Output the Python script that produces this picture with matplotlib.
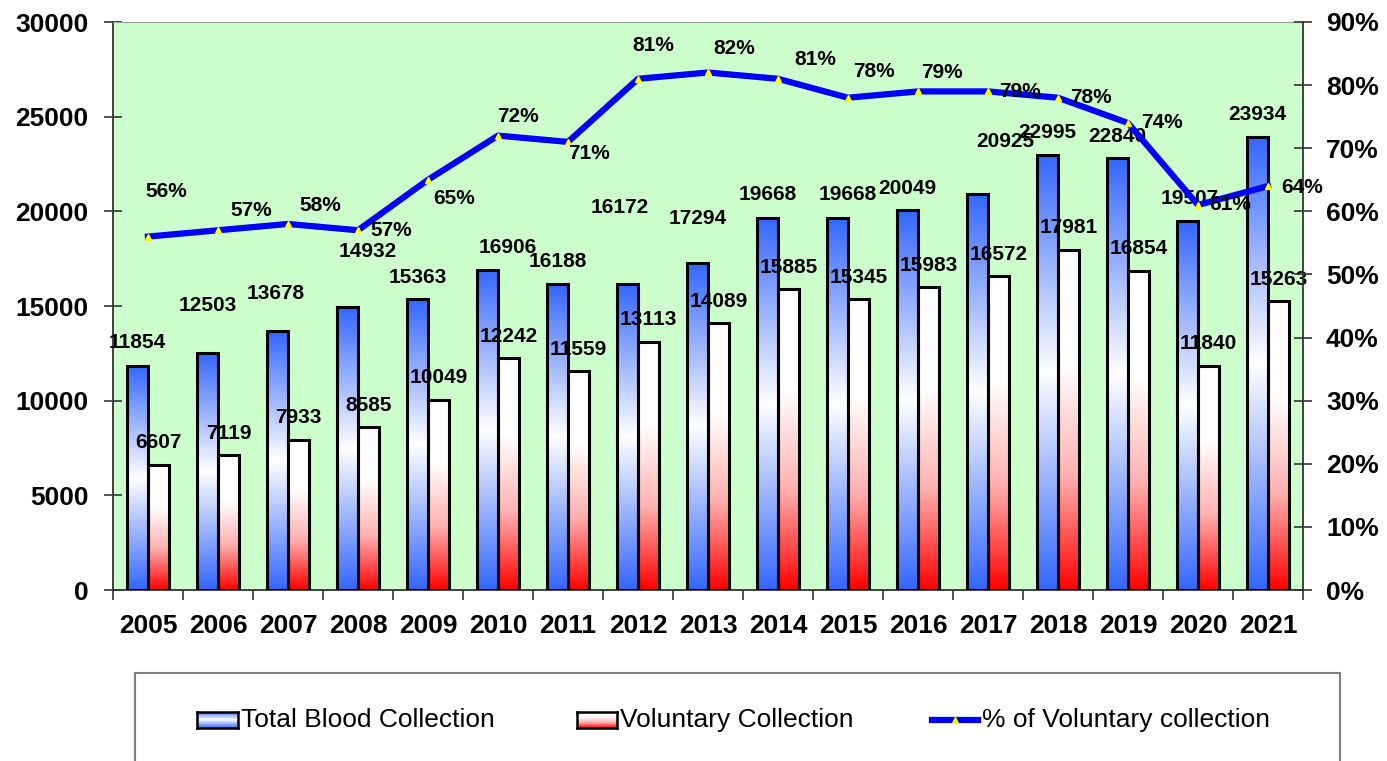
import numpy as np
import matplotlib.pyplot as plt
from matplotlib.colors import LinearSegmentedColormap
from matplotlib.patches import Rectangle
from matplotlib.lines import Line2D
from matplotlib.ticker import PercentFormatter, MultipleLocator

plt.rcParams['font.family'] = ['Liberation Sans', 'DejaVu Sans']

years = ['2005', '2006', '2007', '2008', '2009', '2010', '2011', '2012', '2013',
         '2014', '2015', '2016', '2017', '2018', '2019', '2020', '2021']
total = [11854, 12503, 13678, 14932, 15363, 16906, 16188, 16172, 17294,
         19668, 19668, 20049, 20925, 22995, 22840, 19507, 23934]
voluntary = [6607, 7119, 7933, 8585, 10049, 12242, 11559, 13113, 14089,
             15885, 15345, 15983, 16572, 17981, 16854, 11840, 15263]
pct = [56, 57, 58, 57, 65, 72, 71, 81, 82, 81, 78, 79, 79, 78, 74, 61, 64]

# where the data labels sit, in pixels from the bar top / line point
total_off = [(0, 23), (0, 48), (-2, 38), (20, 56), (0, 22), (20, 22), (0, 22),
             (-8, 76), (0, 44), (0, 23), (10, 23), (0, 22), (28, 52), (0, 22),
             (0, 21), (2, 22), (0, 22)]
vol_off = (0, 22)
pct_off = [(18, 45), (33, 20), (32, 18), (33, 0), (26, -19), (20, 19), (21, -12),
           (15, 33), (26, 24), (37, 19), (26, 26), (24, 19), (32, 0), (33, 0),
           (34, 0), (32, 1), (34, -1)]

W, H = 1387, 761
blue_cmap = LinearSegmentedColormap.from_list('tot', ['#3366FF', '#FFFFFF', '#3366FF'])
red_cmap = LinearSegmentedColormap.from_list('vol', ['#FF0000', '#FFB0B0', '#FFFFFF', '#FFFFFF'])
grad = np.linspace(0, 1, 256).reshape(-1, 1)

fig = plt.figure(figsize=(W / 100, H / 100), dpi=100)
ax = fig.add_axes([113 / W, 1 - 590 / H, (1303 - 113) / W, (590 - 22) / H])
ax.set_facecolor('#CCFFCC')

x = np.arange(len(years))
w = 0.3

# gradient fills, one image per bar, then black outlines on top
for xi, h in zip(x - w / 2, total):
    ax.imshow(grad, extent=[xi - w / 2, xi + w / 2, 0, h], aspect='auto',
              origin='lower', cmap=blue_cmap, zorder=2)
for xi, h in zip(x + w / 2, voluntary):
    ax.imshow(grad, extent=[xi - w / 2, xi + w / 2, 0, h], aspect='auto',
              origin='lower', cmap=red_cmap, zorder=2)
ax.bar(x - w / 2, total, width=w, facecolor='none', edgecolor='black', lw=2.2, zorder=3)
ax.bar(x + w / 2, voluntary, width=w, facecolor='none', edgecolor='black', lw=2.2, zorder=3)

ax.set_xlim(-0.5, len(years) - 0.5)
ax.set_ylim(0, 30000)
ax.yaxis.set_major_locator(MultipleLocator(5000))
ax.set_xticks(x)
ax.set_xticklabels(years, fontsize=19, fontweight='bold')
ax.set_xticks(np.arange(len(years) + 1) - 0.5, minor=True)
ax.tick_params(axis='x', which='major', length=0, pad=17)
ax.tick_params(axis='x', which='minor', direction='out', length=7, width=1.2, color='#333333')
ax.tick_params(axis='y', direction='inout', length=13, width=1.2, pad=11,
               labelsize=19, color='#333333')
for lab in ax.get_yticklabels():
    lab.set_fontweight('bold')
for side in ['left', 'bottom']:
    ax.spines[side].set_color('#333333')
    ax.spines[side].set_linewidth(1.3)
ax.spines['top'].set_color('#999999')
ax.spines['right'].set_visible(False)

for xi, v, (dx, dy) in zip(x - w / 2, total, total_off):
    ax.annotate(str(v), (xi, v), xytext=(dx, dy), textcoords='offset pixels',
                ha='center', va='center', fontsize=15, fontweight='bold', zorder=5)
for xi, v in zip(x + w / 2, voluntary):
    ax.annotate(str(v), (xi, v), xytext=vol_off, textcoords='offset pixels',
                ha='center', va='center', fontsize=15, fontweight='bold', zorder=5)

ax2 = ax.twinx()
p = np.array(pct) / 100
ax2.plot(x, p, color='#0000FF', lw=4.5, marker='^', ms=4.5,
         mfc='#FFFF00', mec='#FFFF00', zorder=4)
ax2.set_ylim(0, 0.9)
ax2.yaxis.set_major_locator(MultipleLocator(0.1))
ax2.yaxis.set_major_formatter(PercentFormatter(1.0, decimals=0))
ax2.tick_params(axis='y', direction='inout', length=13, width=1.2, pad=10,
                labelsize=19, color='#333333')
for lab in ax2.get_yticklabels():
    lab.set_fontweight('bold')
ax2.spines['right'].set_color('#333333')
ax2.spines['right'].set_linewidth(1.3)
for side in ['left', 'top', 'bottom']:
    ax2.spines[side].set_visible(False)

for xi, v, (dx, dy) in zip(x, pct, pct_off):
    ax2.annotate(f'{v}%', (xi, v / 100), xytext=(dx, dy), textcoords='offset pixels',
                 ha='center', va='center', fontsize=15, fontweight='bold', zorder=5)

# legend box below the chart
fig.add_artist(Rectangle((135 / W, -0.05), (1340 - 135) / W, 0.05 + (H - 673) / H,
                         transform=fig.transFigure, facecolor='white',
                         edgecolor='#808080', lw=1.5, zorder=-1))
ly = 1 - 720 / H


def legend_patch(x0, x1, cmap):
    lax = fig.add_axes([x0 / W, ly - 8 / H, (x1 - x0) / W, 16 / H])
    lax.set_zorder(2)
    lax.imshow(grad, aspect='auto', origin='lower', cmap=cmap, extent=[0, 1, 0, 1])
    lax.set_xticks([])
    lax.set_yticks([])
    for s in lax.spines.values():
        s.set_linewidth(1.8)
        s.set_color('black')


legend_patch(197, 238, blue_cmap)
fig.text(241 / W, ly, 'Total Blood Collection', fontsize=19, va='center')
legend_patch(577, 617, red_cmap)
fig.text(620 / W, ly, 'Voluntary Collection', fontsize=19, va='center')
fig.add_artist(Line2D([932 / W, 978 / W], [ly, ly], color='#0000FF', lw=4.5,
                      transform=fig.transFigure))
fig.add_artist(Line2D([955 / W], [ly], marker='^', ms=4.5, color='#FFFF00', ls='none',
                      transform=fig.transFigure))
fig.text(982 / W, ly, '% of Voluntary collection', fontsize=19, va='center')

fig.savefig('out.png', dpi=100)
